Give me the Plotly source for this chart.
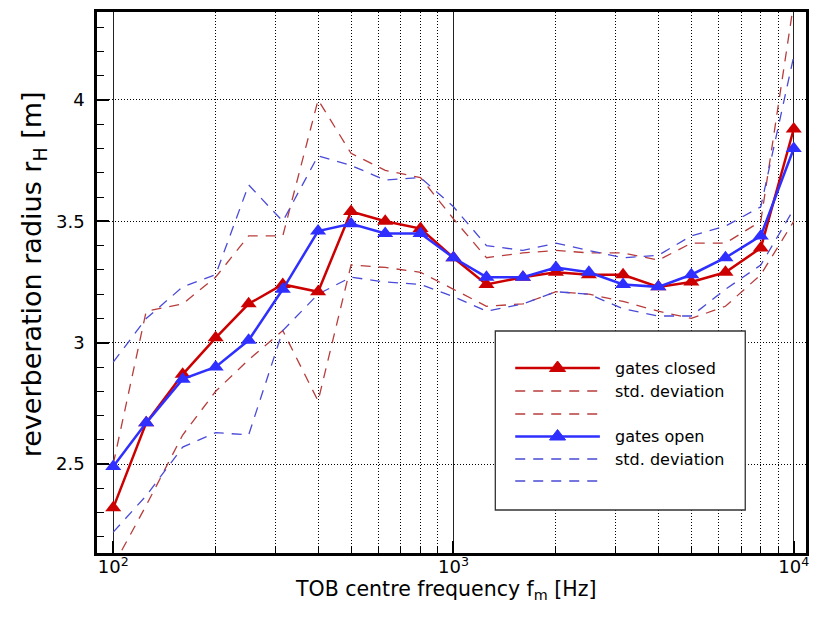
import plotly.graph_objects as go

# ---------------- data ----------------
freq = [100, 125, 160, 200, 250, 315, 400, 500, 630, 800, 1000,
        1250, 1600, 2000, 2500, 3150, 4000, 5000, 6300, 8000, 10000]

closed_mean = [2.32, 2.67, 2.87, 3.02, 3.16, 3.24, 3.21, 3.54, 3.50, 3.47, 3.35,
               3.24, 3.27, 3.29, 3.28, 3.28, 3.23, 3.25, 3.29, 3.39, 3.88]
closed_upper = [2.50, 3.13, 3.16, 3.27, 3.44, 3.44, 4.00, 3.78, 3.71, 3.68, 3.51,
                3.35, 3.37, 3.38, 3.37, 3.37, 3.34, 3.41, 3.41, 3.50, 4.40]
closed_lower = [2.08, 2.33, 2.62, 2.80, 2.93, 3.05, 2.76, 3.32, 3.31, 3.29, 3.22,
                3.15, 3.16, 3.21, 3.20, 3.17, 3.13, 3.10, 3.15, 3.28, 3.50]

open_mean = [2.49, 2.67, 2.85, 2.90, 3.01, 3.22, 3.46, 3.49, 3.45, 3.45, 3.35,
             3.27, 3.27, 3.31, 3.29, 3.24, 3.23, 3.28, 3.35, 3.44, 3.80]
open_upper = [2.92, 3.10, 3.23, 3.28, 3.65, 3.50, 3.77, 3.73, 3.67, 3.68, 3.56,
              3.40, 3.38, 3.41, 3.38, 3.35, 3.36, 3.44, 3.48, 3.56, 4.18]
open_lower = [2.22, 2.37, 2.57, 2.63, 2.62, 3.05, 3.20, 3.27, 3.25, 3.24, 3.19,
              3.13, 3.16, 3.21, 3.20, 3.14, 3.11, 3.11, 3.22, 3.32, 3.55]

x_tickvals = [100, 1000, 10000]
x_ticktext = ["10<sup>2</sup>", "10<sup>3</sup>", "10<sup>4</sup>"]
x_minor = [200, 300, 400, 500, 600, 700, 800, 900,
           2000, 3000, 4000, 5000, 6000, 7000, 8000, 9000]
y_tickvals = [2.5, 3.0, 3.5, 4.0]
y_ticktext = ["2.5", "3", "3.5", "4"]

x_title = "TOB centre frequency f<sub>m</sub> [Hz]"
y_title = "reverberation radius r<sub>H</sub> [m]"
legend_labels = ["gates closed", "std. deviation", "", "gates open", "std. deviation", ""]

# ---------------- style ----------------
RED = "#cc0000"
RED_D = "#b83c3c"
BLUE = "#2f2fff"
BLUE_D = "#4a4ad8"
FONT = "DejaVu Sans"
DASH = "10px,8px"

W, H = 817, 617
ML, MR, MT, MB = 97, 8, 12, 64

fig = go.Figure()

for vals, col in [(closed_upper, RED_D), (closed_lower, RED_D),
                  (open_upper, BLUE_D), (open_lower, BLUE_D)]:
    fig.add_trace(go.Scatter(x=freq, y=vals, mode="lines",
                             line=dict(color=col, width=1.3, dash=DASH),
                             showlegend=False, hoverinfo="skip"))

fig.add_trace(go.Scatter(x=freq, y=closed_mean, mode="lines+markers", name="gates closed",
                         line=dict(color=RED, width=2.5),
                         marker=dict(symbol="triangle-up", size=14, color=RED),
                         showlegend=False))
fig.add_trace(go.Scatter(x=freq, y=open_mean, mode="lines+markers", name="gates open",
                         line=dict(color=BLUE, width=2.5),
                         marker=dict(symbol="triangle-up", size=14, color=BLUE),
                         showlegend=False))

# ---------------- custom legend and titles (decorations) ----------------
pw, ph = W - ML - MR, H - MT - MB


def px2x(px):
    return (px - ML) / pw


def px2y(py):
    return (H - MB - py) / ph


shapes = []
shapes.append(dict(type="rect", xref="paper", yref="paper", layer="above",
                   x0=px2x(497), x1=px2x(748), y0=px2y(510), y1=px2y(331),
                   fillcolor="white", line=dict(color="#333", width=1.3)))
rows = [368, 391, 414, 436.5, 459, 481]
styles = [(RED, "solid", 2.5, True), (RED_D, "dash", 1.3, False), (RED_D, "dash", 1.3, False),
          (BLUE, "solid", 2.5, True), (BLUE_D, "dash", 1.3, False), (BLUE_D, "dash", 1.3, False)]
annotations = []
for ry, (col, dsh, lw, tri), lab in zip(rows, styles, legend_labels):
    shapes.append(dict(type="line", xref="paper", yref="paper", layer="above",
                       x0=px2x(517), x1=px2x(602), y0=px2y(ry), y1=px2y(ry),
                       line=dict(color=col, width=lw, dash=("solid" if dsh == "solid" else DASH))))
    if tri:
        cx = 559.5
        path = "M {:.5f} {:.5f} L {:.5f} {:.5f} L {:.5f} {:.5f} Z".format(
            px2x(cx - 8.1), px2y(ry + 3.5), px2x(cx + 8.1), px2y(ry + 3.5), px2x(cx), px2y(ry - 7))
        shapes.append(dict(type="path", xref="paper", yref="paper", layer="above",
                           path=path, fillcolor=col, line=dict(color=col, width=1)))
    if lab:
        annotations.append(dict(xref="paper", yref="paper", x=px2x(615), y=px2y(ry),
                                xanchor="left", yanchor="middle", showarrow=False,
                                text=lab, font=dict(family=FONT, size=16, color="black")))

annotations.append(dict(xref="paper", yref="paper", x=px2x(447), y=px2y(590),
                        xanchor="center", yanchor="middle", showarrow=False,
                        text=x_title, font=dict(family=FONT, size=20.5, color="black")))
annotations.append(dict(xref="paper", yref="paper", x=px2x(33), y=px2y(274),
                        xanchor="center", yanchor="middle", showarrow=False, textangle=-90,
                        text=y_title, font=dict(family=FONT, size=27, color="black")))

fig.update_layout(
    width=W, height=H,
    margin=dict(l=ML, r=MR, t=MT, b=MB, pad=0),
    paper_bgcolor="white", plot_bgcolor="white",
    font=dict(family=FONT, size=18, color="black"),
    shapes=shapes, annotations=annotations,
    showlegend=False,
)

fig.update_xaxes(
    type="log", range=[1.9523, 4.036],
    tickmode="array", tickvals=x_tickvals, ticktext=x_ticktext,
    ticks="inside", ticklen=12, tickwidth=2, tickcolor="black",
    tickfont=dict(family=FONT, size=18, color="black"),
    ticklabelstandoff=-4,
    showgrid=True, gridcolor="#222", gridwidth=1,
    showline=True, linecolor="black", linewidth=2.5, mirror=True,
    zeroline=False,
    minor=dict(tickmode="array", tickvals=x_minor, ticks="inside", ticklen=7,
               tickcolor="black", tickwidth=1, showgrid=True, gridcolor="black",
               gridwidth=1, griddash="1px,2px"),
)

fig.update_yaxes(
    range=[2.134, 4.362],
    tickmode="array", tickvals=y_tickvals, ticktext=y_ticktext,
    ticks="inside", ticklen=12, tickwidth=2, tickcolor="black",
    tickfont=dict(family=FONT, size=18, color="black"),
    ticklabelstandoff=6,
    showgrid=True, gridcolor="black", gridwidth=1, griddash="1px,2px",
    showline=True, linecolor="black", linewidth=2.5, mirror=True,
    zeroline=False,
    minor=dict(tick0=2.0, dtick=0.1, ticks="inside", ticklen=7, tickcolor="black",
               tickwidth=1, showgrid=False),
)

fig.write_html("out.html")
